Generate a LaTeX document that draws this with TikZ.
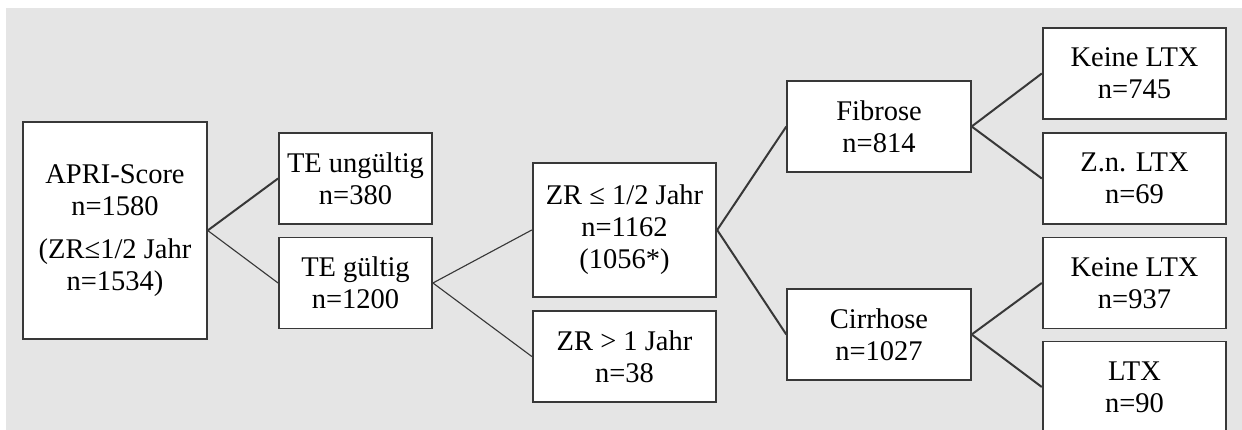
\documentclass[tikz,border=0pt]{standalone}
\usepackage{fontspec}
\setmainfont{Liberation Serif}
\usepackage{tikz}
\definecolor{panel}{HTML}{E5E5E5}
\definecolor{edge}{HTML}{383838}

\begin{document}
\begin{tikzpicture}[x=0.4pt, y=-0.4pt, font=\fontsize{11.4}{12.8}\selectfont,
  box/.style={draw=edge, fill=white, line width=0.75pt, align=center, inner sep=1pt, minimum width=73.4pt, minimum height=36.4pt},
  link/.style={draw=edge, line width=0.8pt},
  thinlink/.style={draw=edge, line width=0.45pt}]
\useasboundingbox (0,0) rectangle (1242,430);
\fill[panel] (6,8) rectangle (1242,430);
% stage 1
\node[box, minimum height=86.8pt] (apri) at (115,230.5) {APRI-Score\\n=1580\\[1.5mm](ZR≤1/2 Jahr\\n=1534)};
\node[box, minimum width=61.2pt] (teu) at (355.5,178.5) {TE ungültig\\n=380};
\node[box, minimum width=61.2pt] (teg) at (355.5,283) {TE gültig\\n=1200};
% stage 2
\node[box, minimum height=53.6pt] (zrle) at (624.5,230) {ZR ≤ 1/2 Jahr\\n=1162\\(1056*)};
\node[box] (zrgt) at (624.5,356.5) {ZR > 1 Jahr\\n=38};
% stage 3
\node[box] (fib) at (879,126.5) {Fibrose\\n=814};
\node[box] (cir) at (879,334.5) {Cirrhose\\n=1027};
\node[box] (fibno) at (1134.5,73.5) {Keine LTX\\n=745};
\node[box] (fibltx) at (1134.5,178.5) {Z.n. LTX\\n=69};
\node[box] (cirno) at (1134.5,283) {Keine LTX\\n=937};
\node[box] (cirltx) at (1134.5,387) {LTX\\n=90};
\draw[link] (apri.east) -- (teu.west); \draw[thinlink] (apri.east) -- (teg.west);
\draw[thinlink] (teg.east) -- (zrle.west); \draw[thinlink] (teg.east) -- (zrgt.west);
\draw[link] (zrle.east) -- (fib.west); \draw[link] (zrle.east) -- (cir.west);
\draw[link] (fib.east) -- (fibno.west); \draw[link] (fib.east) -- (fibltx.west);
\draw[link] (cir.east) -- (cirno.west); \draw[link] (cir.east) -- (cirltx.west);
\end{tikzpicture}
\end{document}
